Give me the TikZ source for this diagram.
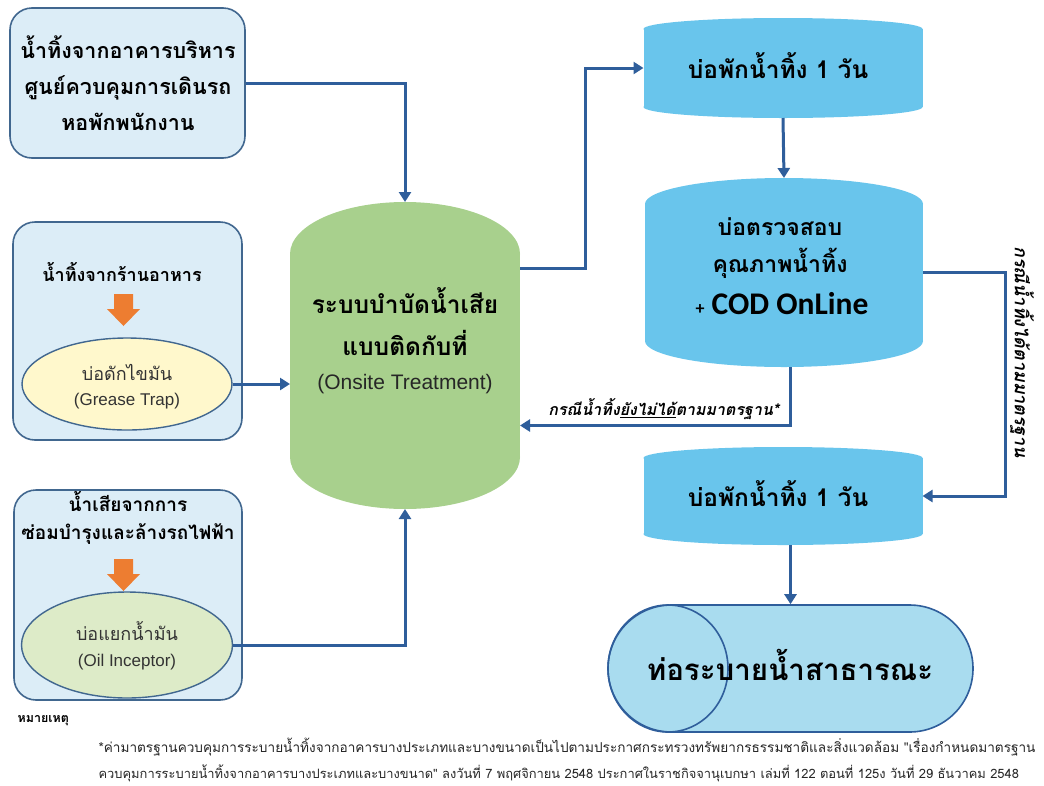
\documentclass[tikz,border=0pt]{standalone}
\usepackage{fontspec}
\setmainfont{Liberation Sans}
\newfontfamily\thai[Script=Thai]{Loma}
\newfontfamily\thaisl[Script=Thai,FakeSlant=0.2]{Loma}
\newfontfamily\calfont{Carlito}
\usetikzlibrary{shapes.misc,shapes.geometric,arrows.meta,calc}
\definecolor{boxfill}{HTML}{DCEDF7}
\definecolor{boxline}{HTML}{41678F}
\definecolor{greasefill}{HTML}{FFF8CC}
\definecolor{oilfill}{HTML}{DDEBC8}
\definecolor{greencyl}{HTML}{A8D08D}
\definecolor{bluecyl}{HTML}{69C5EC}
\definecolor{pipefill}{HTML}{A9DCEF}
\definecolor{flowc}{HTML}{2F5E9B}
\definecolor{orangec}{HTML}{ED7D31}
\newcommand\cylfill[6]{% cx, top, bottom, half width, ry, colour
  \fill[#6] ({#1-#4},{#2+#5}) rectangle ({#1+#4},{#3-#5});
  \fill[#6] (#1,{#2+#5}) ellipse [x radius=#4, y radius=#5];
  \fill[#6] (#1,{#3-#5}) ellipse [x radius=#4, y radius=#5];
}
\begin{document}
\begin{tikzpicture}[x=1pt,y=-1pt,
  srcbox/.style={draw=boxline, fill=boxfill, line width=1.6pt, rounded corners=22pt, inner sep=0pt},
  trapell/.style={ellipse, draw=boxline, line width=1.4pt, inner sep=0pt},
  anchorbox/.style={inner sep=0pt, outer sep=0pt},
  flow/.style={draw=flowc, line width=3pt, -{Triangle[length=10pt,width=12pt]}},
  thb/.style={font=\thai\bfseries\fontsize{21.5}{36}\selectfont, align=center, text=black},
  thr/.style={font=\thai\fontsize{18}{24}\selectfont, align=center, text=black!80},
  lat/.style={font=\fontsize{17}{20}\selectfont, text=black!80},
  slab/.style={font=\thaisl\bfseries\fontsize{16}{18}\selectfont, text=black}
]
\useasboundingbox (0,0) rectangle (1044,785);
\fill[white] (0,0) rectangle (1044,785);

% ---------- left source boxes ----------
\node[srcbox, minimum width=235, minimum height=150] (src1) at (127.5,83) {};
\node[thb] (src1t) at (128,83) {น้ำทิ้งจากอาคารบริหาร\\ศูนย์ควบคุมการเดินรถ\\หอพักพนักงาน};

\node[srcbox, minimum width=229, minimum height=218] (src2) at (127.5,331) {};
\node[thb, font=\thai\bfseries\fontsize{18}{24}\selectfont] (src2t) at (122,272) {น้ำทิ้งจากร้านอาหาร};
\fill[orangec] (114,294) -- (133,294) -- (133,309) -- (140,309) -- (123.5,326) -- (107,309) -- (114,309) -- cycle;
\node[trapell, fill=greasefill, minimum width=210, minimum height=92] (grease) at (127,384) {};
\node[thr] (greaset) at (127,372) {บ่อดักไขมัน};
\node[lat] (greasel) at (127,401) {(Grease Trap)};

\node[srcbox, minimum width=228, minimum height=210] (src3) at (128,595) {};
\node[thb, font=\thai\bfseries\fontsize{19}{28}\selectfont] (src3t) at (128,518) {น้ำเสียจากการ\\ซ่อมบำรุงและล้างรถไฟฟ้า};
\fill[orangec] (114,559) -- (133,559) -- (133,574) -- (140,574) -- (123.5,591) -- (107,574) -- (114,574) -- cycle;
\node[trapell, fill=oilfill, minimum width=211, minimum height=106] (oil) at (127,645) {};
\node[thr] (oilt) at (127,631) {บ่อแยกน้ำมัน};
\node[lat] (oill) at (127,662) {(Oil Inceptor)};

% ---------- central treatment ----------
\cylfill{405}{202}{509}{115}{52}{greencyl}
\node[anchorbox, minimum width=230, minimum height=307] (treat) at (405,355.5) {};
\node[thb, font=\thai\bfseries\fontsize{24.5}{42}\selectfont] (treatt) at (405,322) {ระบบบำบัดน้ำเสีย\\แบบติดกับที่};
\node[font=\fontsize{21}{24}\selectfont, text=black!85] (treatl) at (405,384) {(Onsite Treatment)};

% ---------- right column ----------
\cylfill{783}{18}{118}{139.5}{11}{bluecyl}
\node[anchorbox, minimum width=279, minimum height=100] (pond1) at (783,68) {};
\node[thb, font=\thai\bfseries\fontsize{24.5}{26}\selectfont] (pond1t) at (778,66) {บ่อพักน้ำทิ้ง 1 วัน};

\cylfill{784}{178}{367}{139}{26}{bluecyl}
\node[anchorbox, minimum width=278, minimum height=189] (cod) at (784,272.5) {};
\node[thb, font=\thai\bfseries\fontsize{23}{37}\selectfont] (codt) at (780,248) {บ่อตรวจสอบ\\คุณภาพน้ำทิ้ง};
\node[font=\calfont\bfseries\fontsize{31.5}{34}\selectfont] (codl) at (782,304) {{\fontsize{18}{20}\selectfont +} COD OnLine};

\cylfill{783}{447}{545}{139.5}{11}{bluecyl}
\node[anchorbox, minimum width=279, minimum height=98] (pond2) at (783,496) {};
\node[thb, font=\thai\bfseries\fontsize{24.5}{26}\selectfont] (pond2t) at (778,494) {บ่อพักน้ำทิ้ง 1 วัน};

% ---------- public drain ----------
\node[rounded rectangle, draw=flowc, fill=pipefill, line width=1.6pt, minimum width=365, minimum height=127, inner sep=0pt] (pipe) at (790.5,668.5) {};
\draw[flowc, line width=1.6pt] (668,668.5) ellipse [x radius=60, y radius=63.5];
\node[thb, font=\thai\bfseries\fontsize{29.5}{34}\selectfont] (pipet) at (790,665) {ท่อระบายน้ำสาธารณะ};

% ---------- connectors ----------
\draw[flow] (src1.east) -| (treat.north);
\draw[flow] (grease.east) -- (grease.east -| treat.west);
\draw[flow] (oil.east) -| (treat.south);
\draw[flow] ([yshift=87.5pt]treat.east) -- ++(65,0) |- (pond1.west);
\draw[flow] (pond1.south) -- (cod.north);
\draw[flow] (cod.east) -- ++(82,0) |- (pond2.east);
\draw[flow] ([xshift=6pt]cod.south) |- ([yshift=-70pt]treat.east)
  node[pos=0.5, anchor=south east, xshift=-6pt, yshift=1pt, slab] (failt) {กรณีน้ำทิ้ง\underline{ยังไม่ได้}ตามมาตรฐาน*};
\draw[flow] (pond2.south -| pipe.north) -- (pipe.north);
\node[rotate=-90, slab, font=\thaisl\bfseries\fontsize{18}{20}\selectfont] (passt) at (1022,352) {กรณีน้ำทิ้งได้ตามมาตรฐาน};

% ---------- footnote ----------
\node[anchor=west, font=\thai\bfseries\fontsize{12.5}{14}\selectfont] (noteh) at (14,721) {หมายเหตุ};
\node[anchor=west, font=\thai\fontsize{13.6}{16}\selectfont, text=black!85] (note1) at (95,747) {*ค่ามาตรฐานควบคุมการระบายน้ำทิ้งจากอาคารบางประเภทและบางขนาดเป็นไปตามประกาศกระทรวงทรัพยากรธรรมชาติและสิ่งแวดล้อม "เรื่องกำหนดมาตรฐาน};
\node[anchor=west, font=\thai\fontsize{12.9}{16}\selectfont, text=black!85] (note2) at (95,773) {ควบคุมการระบายน้ำทิ้งจากอาคารบางประเภทและบางขนาด" ลงวันที่ 7 พฤศจิกายน 2548 ประกาศในราชกิจจานุเบกษา เล่มที่ 122 ตอนที่ 125ง วันที่ 29 ธันวาคม 2548};
\end{tikzpicture}
\end{document}
